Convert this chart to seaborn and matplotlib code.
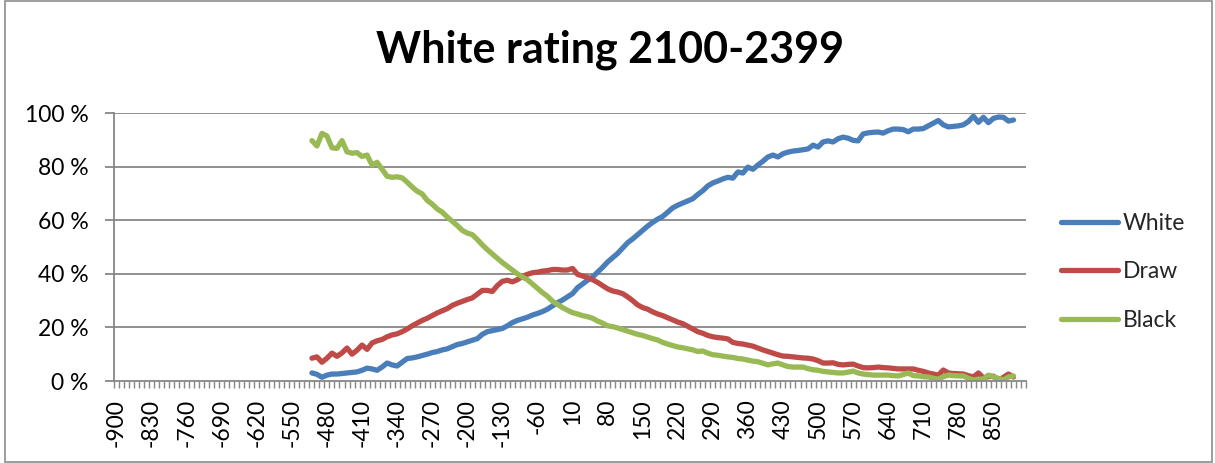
import numpy as np
import pandas as pd
import matplotlib
matplotlib.use("Agg")
import matplotlib.pyplot as plt
from matplotlib.patches import Rectangle
import seaborn as sns

# Rating difference categories (Elo points, white minus black)
categories = list(range(-900, 911, 10))
data_diff = list(range(-510, 891, 10))

white = [3.0, 2.5, 1.4, 2.2, 2.6, 2.6, 2.8, 3.0, 3.2, 3.4,
         4.0, 4.8, 4.5, 4.0, 5.2, 6.7, 6.0, 5.6, 7.0, 8.4,
         8.6, 9.0, 9.5, 10.0, 10.6, 11.0, 11.6, 12.0, 12.8, 13.6,
         14.0, 14.6, 15.2, 15.8, 17.4, 18.4, 18.8, 19.2, 19.6, 20.6,
         21.8, 22.6, 23.2, 23.8, 24.6, 25.2, 25.9, 26.8, 28.0, 29.2,
         30.2, 31.4, 32.6, 34.8, 36.2, 37.6, 38.8, 40.6, 42.4, 44.4,
         46.0, 47.6, 49.6, 51.6, 53.0, 54.6, 56.2, 57.8, 59.2, 60.4,
         61.4, 63.0, 64.6, 65.6, 66.4, 67.2, 68.0, 69.6, 71.0, 72.8,
         73.9, 74.6, 75.4, 76.0, 75.7, 78.0, 77.6, 79.8, 79.0, 80.6,
         82.0, 83.6, 84.3, 83.6, 84.8, 85.4, 85.8, 86.0, 86.3, 86.6,
         88.0, 87.3, 89.2, 89.6, 89.2, 90.4, 91.0, 90.6, 89.8, 89.6,
         92.2, 92.6, 92.8, 92.9, 92.5, 93.4, 94.0, 94.0, 93.8, 93.0,
         94.0, 94.0, 94.2, 95.2, 96.2, 97.2, 95.6, 94.8, 95.0, 95.2,
         95.6, 96.8, 98.8, 96.5, 98.4, 96.4, 98.0, 98.5, 98.4, 97.0,
         97.4]

draw = [8.5, 9.0, 7.0, 8.5, 10.4, 9.2, 10.5, 12.3, 10.0, 11.5,
        13.4, 11.8, 14.2, 15.0, 15.5, 16.5, 17.2, 17.6, 18.4, 19.4,
        20.6, 21.6, 22.6, 23.4, 24.4, 25.4, 26.2, 27.0, 28.2, 29.0,
        29.7, 30.4, 31.0, 32.4, 33.8, 33.8, 33.4, 35.6, 37.2, 37.6,
        37.0, 37.8, 39.0, 39.8, 40.4, 40.6, 41.0, 41.2, 41.6, 41.6,
        41.4, 41.4, 42.0, 39.8, 39.2, 38.6, 37.8, 36.8, 35.6, 34.4,
        33.6, 33.2, 32.6, 31.4, 30.0, 28.4, 27.4, 26.8, 25.8, 25.0,
        24.4, 23.6, 22.8, 22.0, 21.4, 20.4, 19.4, 18.4, 17.8, 17.0,
        16.5, 16.2, 16.0, 15.7, 14.4, 14.0, 13.8, 13.4, 13.0, 12.3,
        11.6, 11.0, 10.4, 9.8, 9.3, 9.2, 9.0, 8.8, 8.6, 8.5,
        8.2, 7.6, 6.7, 6.7, 6.8, 6.2, 6.0, 6.2, 6.3, 5.6,
        5.0, 4.9, 5.0, 5.2, 5.0, 4.9, 4.7, 4.5, 4.5, 4.5,
        4.5, 4.0, 3.6, 3.0, 2.6, 2.2, 4.1, 3.0, 2.8, 2.7,
        2.6, 2.0, 1.5, 3.0, 1.2, 1.6, 1.8, 0.2, 1.4, 2.6,
        1.5]

black = [89.7, 87.7, 92.4, 91.4, 87.0, 86.8, 89.7, 85.5, 85.0, 85.2,
         83.8, 84.3, 80.6, 81.6, 79.0, 76.4, 76.0, 76.2, 75.8, 74.2,
         72.4, 70.8, 69.8, 67.4, 66.0, 64.2, 63.0, 61.2, 59.6, 58.0,
         56.2, 55.2, 54.6, 52.8, 50.8, 49.0, 47.4, 45.8, 44.2, 42.8,
         41.4, 40.0, 38.8, 37.8, 36.2, 34.6, 33.0, 31.6, 29.8, 28.6,
         27.4, 26.4, 25.5, 25.0, 24.4, 24.0, 23.4, 22.4, 21.6, 20.6,
         20.3, 19.8, 19.2, 18.6, 18.0, 17.4, 17.0, 16.4, 15.8, 15.3,
         14.4, 13.8, 13.2, 12.7, 12.4, 12.0, 11.6, 11.0, 11.2, 10.4,
         9.8, 9.6, 9.3, 9.0, 8.8, 8.4, 8.2, 7.8, 7.4, 7.2,
         6.6, 6.0, 6.4, 6.7, 6.0, 5.4, 5.2, 5.2, 5.2, 4.6,
         4.2, 4.0, 3.6, 3.4, 3.2, 3.0, 3.0, 3.3, 3.7, 3.0,
         2.6, 2.4, 2.2, 2.2, 2.2, 2.2, 2.0, 1.9, 2.4, 3.0,
         2.0, 1.9, 1.6, 1.5, 1.0, 0.7, 1.6, 2.2, 2.0, 1.9,
         1.9, 1.0, 0.4, 0.6, 0.8, 2.2, 1.5, 1.0, 0.4, 1.5,
         1.9]

series_names = ["White", "Draw", "Black"]
colors = ["#4A7EBB", "#BE4B48", "#98B954"]
tick_labels = [str(c) for c in categories[::7]]
y_ticks = [0, 20, 40, 60, 80, 100]

df = pd.DataFrame({
    "diff": data_diff * 3,
    "pct": white + draw + black,
    "result": sum([[n] * len(data_diff) for n in series_names], []),
})

sns.set_theme(style="white")
plt.rcParams["font.family"] = ["Lato", "DejaVu Sans"]

fig = plt.figure(figsize=(12.15, 4.63), dpi=100)
W, H = 1215, 463
ax = fig.add_axes([114 / W, 1 - 381 / H, (1026 - 114) / W, (381 - 113) / H])

grid_col = "#878787"
label_size = 16.5
for yv in y_ticks[1:]:
    ax.axhline(yv, color=grid_col, lw=1.3, zorder=0)

sns.lineplot(data=df, x="diff", y="pct", hue="result", hue_order=series_names,
             palette=colors, linewidth=3.8, ax=ax, legend=False,
             solid_capstyle="round", solid_joinstyle="round")

ax.set_xlim(categories[0] - 5, categories[-1] + 5)
ax.set_ylim(0, 100)
ax.set_xlabel("")
ax.set_ylabel("")

# Category axis: a tick at every category boundary, label every 7th category
ax.set_xticks(categories[::7])
ax.set_xticklabels(tick_labels, rotation=90, fontsize=label_size)
ax.tick_params(axis="x", which="major", length=0, pad=13, labelcolor="black")
ax.set_xticks([c - 5 for c in categories] + [categories[-1] + 5], minor=True)
ax.tick_params(axis="x", which="minor", length=5, width=1, color=grid_col,
               direction="out", bottom=True)

ax.set_yticks(y_ticks)
ax.set_yticklabels([f"{v} %" for v in y_ticks], fontsize=label_size)
ax.tick_params(axis="y", length=6.5, width=1.3, color=grid_col, direction="out",
               left=True, pad=12, labelcolor="black")

for side in ["top", "right"]:
    ax.spines[side].set_visible(False)
for side in ["left", "bottom"]:
    ax.spines[side].set_color(grid_col)
    ax.spines[side].set_linewidth(1.3)

fig.text(610 / W, 1 - 50 / H, "White rating 2100-2399", ha="center", va="center",
         fontsize=31, fontweight="bold", color="black")

handles = [plt.Line2D([], [], color=c, lw=3.8, solid_capstyle="round") for c in colors]
fig.legend(handles, series_names, loc="center left",
           bbox_to_anchor=(1061 / W, 1 - 272 / H), frameon=False,
           borderpad=0, borderaxespad=0,
           fontsize=label_size, handlelength=2.5, handletextpad=0.2, labelspacing=1.22)

fig.patches.append(Rectangle((5 / W, 1 / H), 1207 / W, 461 / H, transform=fig.transFigure,
                             fill=False, edgecolor="#8C8C8C", lw=1.2))

fig.savefig("out.png", dpi=100)
